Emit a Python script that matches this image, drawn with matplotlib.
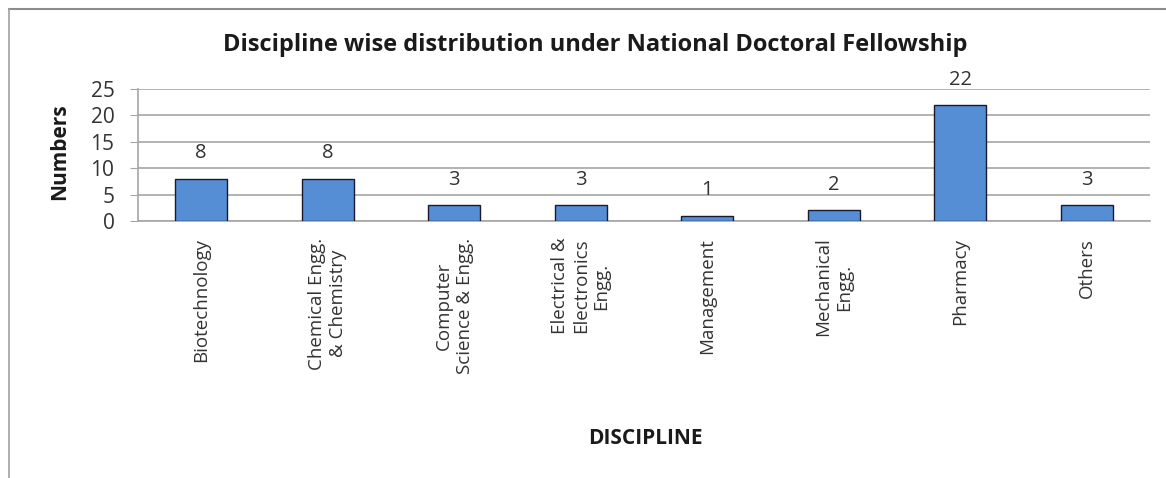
import matplotlib.pyplot as plt
import numpy as np
from matplotlib.lines import Line2D

disciplines = ['Biotechnology', 'Chemical Engg.\n& Chemistry', 'Computer\nScience & Engg.',
               'Electrical &\nElectronics\nEngg.', 'Management', 'Mechanical\nEngg.',
               'Pharmacy', 'Others']
numbers = [8, 8, 3, 3, 1, 2, 22, 3]

plt.rcParams['font.family'] = ['Open Sans', 'DejaVu Sans']

fig = plt.figure(figsize=(11.66, 4.78), dpi=100)
ax = fig.add_axes([138/1166, 1 - 221/478, (1150-138)/1166, 132/478])

x = np.arange(len(disciplines))
ax.bar(x, numbers, width=0.41, color='#558ed5', edgecolor='#1a1a2e', linewidth=1, zorder=3)
for xi, v in zip(x, numbers):
    ax.annotate(str(v), (xi, v), xytext=(0, 11), textcoords='offset points',
                ha='center', va='bottom', fontsize=14.5, color='#333333')

ax.set_xlim(-0.5, len(disciplines) - 0.5)
ax.set_ylim(0, 25)
ax.set_yticks(range(0, 26, 5))
ax.yaxis.grid(True, color='#a6a6a6', linewidth=1.2, zorder=0)
ax.tick_params(axis='y', labelsize=15, length=6, color='#a6a6a6', pad=11, labelcolor='#333333')
ax.set_xticks(x)
ax.set_xticklabels(disciplines, rotation=90, fontsize=13.5, ha='center', va='top',
                   multialignment='center', color='#333333')
ax.tick_params(axis='x', length=0, pad=12)
for s in ['top', 'right']:
    ax.spines[s].set_visible(False)
ax.spines['left'].set_color('#a6a6a6')
ax.spines['bottom'].set_color('#a6a6a6')
ax.spines['left'].set_linewidth(1.2)
ax.spines['bottom'].set_linewidth(1.2)

fig.text(595/1166, 1 - 45/478, 'Discipline wise distribution under National Doctoral Fellowship',
         ha='center', va='center', fontsize=17, fontweight='bold', color='#1a1a1a')
fig.text(60/1166, 1 - 152/478, 'Numbers', rotation=90, ha='center', va='center',
         fontsize=15, fontweight='bold', color='#1a1a1a')
fig.text(645/1166, 1 - 438/478, 'DISCIPLINE', ha='center', va='center',
         fontsize=15, fontweight='bold', color='#1a1a1a')

# outer frame (top and left edges visible in the reference)
fig.add_artist(Line2D([9/1166, 1], [1 - 9/478, 1 - 9/478], transform=fig.transFigure,
                      color='#8c8c8c', linewidth=1.5))
fig.add_artist(Line2D([9/1166, 9/1166], [0, 1 - 9/478], transform=fig.transFigure,
                      color='#a0a0a0', linewidth=1.2))

fig.savefig('out.png', dpi=100)
